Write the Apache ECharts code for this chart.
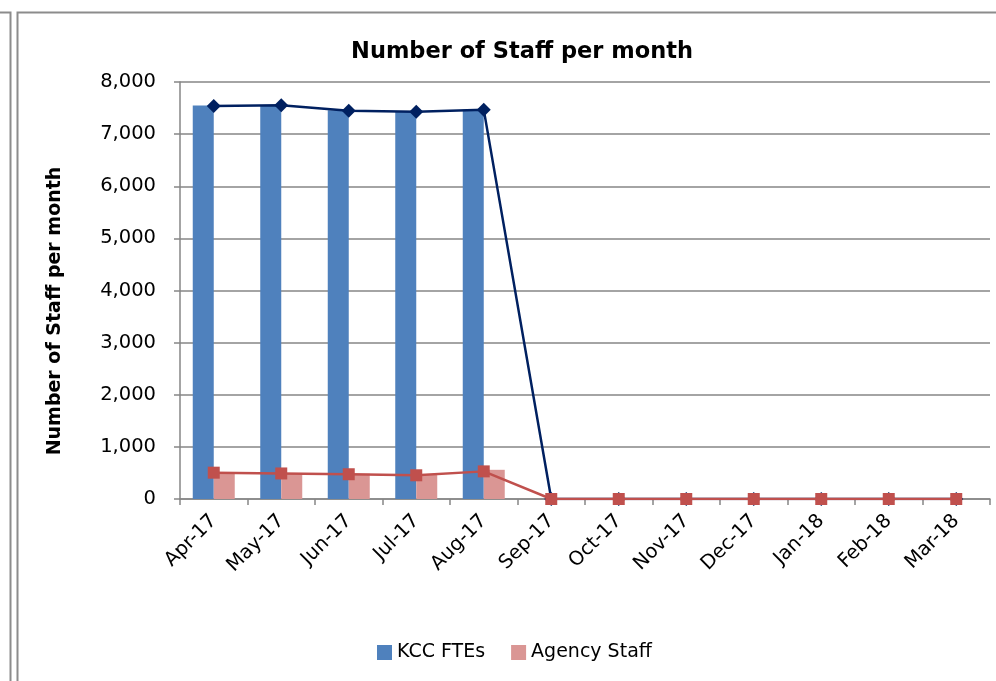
<!DOCTYPE html>
<html>
<head>
<meta charset="utf-8">
<script src="https://cdn.jsdelivr.net/npm/echarts@6/dist/echarts.min.js"></script>
<style>
  html, body { margin: 0; padding: 0; background: #fff; }
  #chart { width: 996px; height: 681px; }
</style>
</head>
<body>
<div id="chart"></div>
<script>
const months = ['Apr-17', 'May-17', 'Jun-17', 'Jul-17', 'Aug-17', 'Sep-17', 'Oct-17', 'Nov-17', 'Dec-17', 'Jan-18', 'Feb-18', 'Mar-18']
const fteBars = [7550, 7550, 7460, 7430, 7470, null, null, null, null, null, null, null]
const agencyBars = [505, 495, 485, 465, 560, null, null, null, null, null, null, null]
const fteLine = [7540, 7555, 7450, 7430, 7470, 0, 0, 0, 0, 0, 0, 0]
const agencyLine = [505, 490, 475, 455, 530, 0, 0, 0, 0, 0, 0, 0]

const font = '"DejaVu Sans", sans-serif'
const chart = echarts.init(document.getElementById('chart'))

chart.setOption({
  animation: false,
  textStyle: { fontFamily: font },
  title: {
    text: 'Number of Staff per month',
    left: 517,
    top: 36,
    textAlign: 'center',
    textStyle: { fontSize: 22.5, fontWeight: 'bold', color: '#000', fontFamily: font }
  },
  legend: {
    data: ['KCC FTEs', 'Agency Staff'],
    left: 372,
    top: 638,
    icon: 'rect',
    itemWidth: 15,
    itemHeight: 15,
    itemGap: 26,
    textStyle: { fontSize: 19, color: '#000', fontFamily: font }
  },
  grid: { left: 180, right: 6, top: 82, bottom: 182 },
  xAxis: {
    type: 'category',
    data: months,
    axisLine: { lineStyle: { color: '#868686', width: 1.5 } },
    axisTick: { show: true, length: 6, lineStyle: { color: '#868686', width: 1.5 } },
    axisLabel: { rotate: 45, fontSize: 19.5, color: '#000', margin: 19, fontFamily: font }
  },
  yAxis: {
    type: 'value',
    min: 0,
    max: 8000,
    interval: 1000,
    axisLine: { show: true, lineStyle: { color: '#868686', width: 1.5 } },
    axisTick: { show: true, inside: false, length: 6, lineStyle: { color: '#868686', width: 1.5 } },
    axisLabel: {
      fontSize: 19.5, color: '#000', margin: 24, fontFamily: font,
      formatter: v => v.toLocaleString('en-US')
    },
    splitLine: { show: true, lineStyle: { color: '#868686', width: 1.5 } }
  },
  series: [
    {
      name: 'KCC FTEs',
      type: 'bar',
      data: fteBars,
      barWidth: 21,
      barGap: '0%',
      itemStyle: { color: '#4F81BD' }
    },
    {
      name: 'Agency Staff',
      type: 'bar',
      data: agencyBars,
      barWidth: 21,
      itemStyle: { color: '#DA9694' }
    },
    {
      name: 'KCC FTEs line',
      type: 'line',
      data: fteLine,
      symbol: 'diamond',
      symbolSize: 14,
      lineStyle: { color: '#002060', width: 2.5 },
      itemStyle: { color: '#002060' },
      z: 3
    },
    {
      name: 'Agency Staff line',
      type: 'line',
      data: agencyLine,
      symbol: 'rect',
      symbolSize: 12,
      lineStyle: { color: '#C0504D', width: 2.5 },
      itemStyle: { color: '#C0504D' },
      z: 4
    }
  ],
  graphic: [
    {
      type: 'text',
      x: 55,
      y: 311,
      rotation: Math.PI / 2,
      style: {
        text: 'Number of Staff per month',
        fontSize: 19,
        fontWeight: 'bold',
        fontFamily: font,
        fill: '#000',
        align: 'center',
        verticalAlign: 'middle'
      }
    },
    {
      type: 'polyline',
      shape: { points: [[0, 12.5], [10.5, 12.5], [10.5, 681]] },
      style: { stroke: '#8c8c8c', lineWidth: 2, fill: null }
    },
    {
      type: 'polyline',
      shape: { points: [[17.5, 681], [17.5, 12.5], [996, 12.5]] },
      style: { stroke: '#8c8c8c', lineWidth: 2, fill: null }
    }
  ]
})
</script>
</body>
</html>
